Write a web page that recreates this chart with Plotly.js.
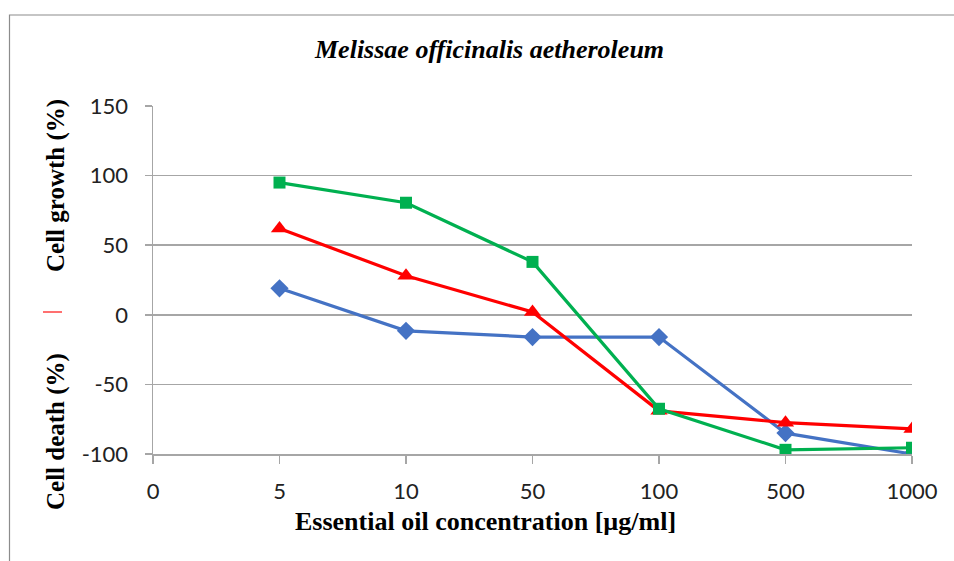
<!DOCTYPE html>
<html>
<head>
<meta charset="utf-8">
<script src="https://cdn.plot.ly/plotly-3.0.1.min.js"></script>
<style>html,body{margin:0;padding:0;background:#fff}#chart{width:954px;height:561px}</style>
</head>
<body>
<div id="chart"></div>
<script>
const categories = ["0", "5", "10", "50", "100", "500", "1000"];
const dataCategories = ["5", "10", "50", "100", "500", "1000"];
const blueValues = [19, -11.5, -16, -16, -85, -100];
const redValues = [62, 28, 2, -69, -77.5, -82];
const greenValues = [95, 80.5, 38, -67.5, -97, -95.5];
const yTicks = [-100, -50, 0, 50, 100, 150];
const yTickText = ["-100", "-50", "0", "50", "100", "150"];

const xIdx = dataCategories.map(c => categories.indexOf(c));

const traces = [
  {x: xIdx, y: blueValues, mode: 'lines+markers', line: {color: '#4472C4', width: 3.2},
   marker: {symbol: 'diamond', size: 14, color: '#4472C4'}},
  {x: xIdx, y: redValues, mode: 'lines+markers', line: {color: '#FF0000', width: 3.2},
   marker: {symbol: 'triangle-up', size: 15, color: '#FF0000'}},
  {x: xIdx, y: greenValues, mode: 'lines+markers', line: {color: '#00B050', width: 3.2},
   marker: {symbol: 'square', size: 12, color: '#00B050'}}
];

const L = 153, R = 912, T = 106, B = 454, W = 954, H = 561;
const px = v => (v - L) / (R - L);
const py = v => (B - v) / (B - T);

const serifBold = {family: 'Liberation Serif', size: 26, weight: 'bold', color: '#000'};

const layout = {
  width: W, height: H,
  margin: {l: L, r: W - R, t: T, b: H - B, pad: 0},
  showlegend: false,
  paper_bgcolor: '#fff', plot_bgcolor: '#fff',
  xaxis: {
    range: [0, 6], tickmode: 'array', tickvals: categories.map((c, i) => i), ticktext: categories,
    showgrid: false, zeroline: false, showline: true, linecolor: '#A6A6A6', linewidth: 1.5,
    ticks: 'outside', ticklen: 8, tickcolor: '#A6A6A6', tickwidth: 1.5, ticklabelstandoff: 9,
    tickfont: {family: 'Lato', size: 22, color: '#222'}
  },
  yaxis: {
    range: [-100, 150], tickmode: 'array', tickvals: yTicks, ticktext: yTickText,
    showgrid: true, gridcolor: '#A6A6A6', gridwidth: 1.5, zeroline: false,
    showline: true, linecolor: '#A6A6A6', linewidth: 1.5,
    ticks: 'outside', ticklen: 7, tickcolor: '#A6A6A6', tickwidth: 1.5, ticklabelstandoff: 12,
    tickfont: {family: 'Lato', size: 22, color: '#222'}
  },
  annotations: [
    {text: 'Melissae officinalis aetheroleum', xref: 'paper', yref: 'paper', x: px(489), y: py(50),
     showarrow: false, xanchor: 'center', yanchor: 'middle',
     font: {family: 'Liberation Serif', size: 26, style: 'italic', weight: 'bold', color: '#000'}},
    {text: 'Essential oil concentration [µg/ml]', xref: 'paper', yref: 'paper', x: px(485), y: py(521),
     showarrow: false, xanchor: 'center', yanchor: 'middle', font: serifBold},
    {text: 'Cell growth (%)', xref: 'paper', yref: 'paper', x: px(56), y: py(186), textangle: -90,
     showarrow: false, xanchor: 'center', yanchor: 'middle',
     font: {family: 'Liberation Serif', size: 25, weight: 'bold', color: '#000'}},
    {text: 'Cell death (%)', xref: 'paper', yref: 'paper', x: px(56), y: py(432), textangle: -90,
     showarrow: false, xanchor: 'center', yanchor: 'middle',
     font: {family: 'Liberation Serif', size: 25, weight: 'bold', color: '#000'}}
  ],
  shapes: [
    {type: 'line', xref: 'paper', yref: 'paper', x0: px(43), x1: px(62), y0: py(312), y1: py(312),
     line: {color: '#FF4040', width: 1.5}},
    {type: 'rect', xref: 'paper', yref: 'paper', x0: px(9.5), x1: px(1000), y0: py(15), y1: py(600),
     line: {color: '#8C8C8C', width: 1.2}, fillcolor: 'rgba(0,0,0,0)', layer: 'below'}
  ]
};

Plotly.newPlot('chart', traces, layout, {displayModeBar: false, staticPlot: true});
</script>
</body>
</html>
